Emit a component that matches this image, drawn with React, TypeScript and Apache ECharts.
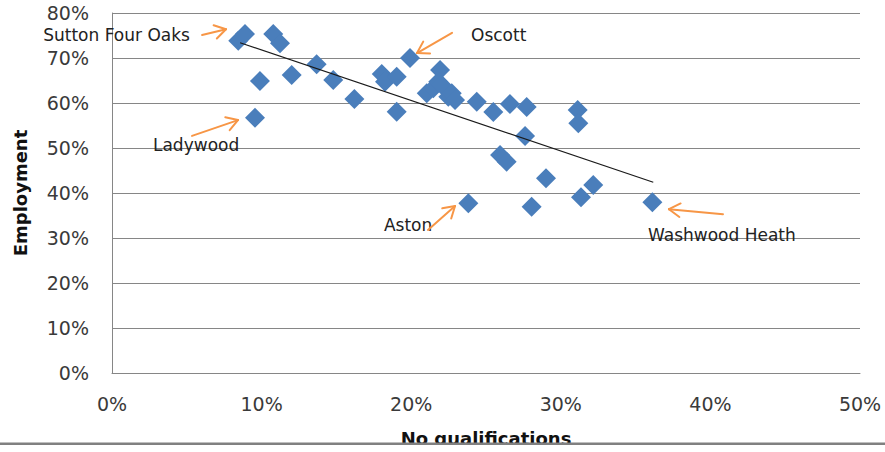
import React, { useEffect, useRef } from "react";
import * as echarts from "echarts";

// No qualifications (%) per ward
const noQualifications: number[] = [
  8.44, 8.89, 9.56, 9.89, 10.78, 11.23, 12.01, 13.68, 14.79, 16.2,
  18.03, 18.25, 19.03, 19.03, 19.92, 21.04, 21.48, 21.93, 21.81, 22.04,
  22.48, 22.71, 22.93, 24.38, 25.49, 26.6, 27.72, 27.61, 25.94, 26.38,
  29.01, 28.05, 23.82, 31.13, 31.17, 32.17, 31.35, 36.12,
];
// Employment (%) per ward
const employment: number[] = [
  73.84, 75.33, 56.73, 64.89, 75.33, 73.27, 66.22, 68.6, 65.11, 60.89,
  66.44, 64.73, 65.84, 58.07, 70.0, 62.16, 63.27, 67.33, 64.73, 64.0,
  61.4, 62.16, 60.67, 60.29, 58.0, 59.78, 59.11, 52.67, 48.44, 46.96,
  43.27, 36.96, 37.71, 58.44, 55.49, 41.78, 39.04, 37.93,
];

// Linear trend line end points [x, y]
const trendStart: number[] = [8.56, 73.4];
const trendEnd: number[] = [36.18, 42.38];

// Axis ticks
const xTicks: number[] = [0, 10, 20, 30, 40, 50];
const yTicks: number[] = [0, 10, 20, 30, 40, 50, 60, 70, 80];

// Annotations: name, label anchor (left-middle), arrow tail, arrow head (data coords)
const annotationNames: string[] = ["Sutton Four Oaks", "Ladywood", "Oscott", "Aston", "Washwood Heath"];
const annotationLabelX: number[] = [-4.6, 2.74, 24.0, 18.18, 35.83];
const annotationLabelY: number[] = [75.1, 50.7, 75.1, 32.9, 30.7];
const arrowFromX: number[] = [6.02, 5.35, 22.73, 21.12, 40.84];
const arrowFromY: number[] = [75.1, 52.7, 75.6, 31.8, 35.3];
const arrowToX: number[] = [7.62, 8.42, 20.39, 22.93, 37.23];
const arrowToY: number[] = [76.4, 56.2, 71.1, 37.1, 36.4];

const FONT = '"DejaVu Sans", "Open Sans", sans-serif';

export default function App() {
  const ref = useRef<HTMLDivElement>(null);

  useEffect(() => {
    if (!ref.current) return;
    const chart = echarts.init(ref.current, undefined, { renderer: "svg" });

    const scatterData = noQualifications.map((x, i) => [x, employment[i]]);
    const annotationData = annotationNames.map((_, i) => [
      annotationLabelX[i], annotationLabelY[i],
      arrowFromX[i], arrowFromY[i], arrowToX[i], arrowToY[i],
    ]);

    const orange = "#F79646";

    chart.setOption({
      animation: false,
      backgroundColor: "#ffffff",
      grid: { left: 112, right: 25, top: 13, bottom: 79, containLabel: false },
      xAxis: {
        type: "value",
        min: xTicks[0],
        max: xTicks[xTicks.length - 1],
        interval: 10,
        name: "No qualifications",
        nameLocation: "middle",
        nameGap: 56,
        nameTextStyle: { fontFamily: FONT, fontSize: 18, fontWeight: "bold", color: "#111" },
        axisLine: { show: true, lineStyle: { color: "#868686", width: 1 } },
        axisTick: { show: false },
        splitLine: { show: false },
        axisLabel: {
          margin: 21,
          fontFamily: FONT,
          fontSize: 19,
          color: "#3a3a3a",
          formatter: (v: number) => `${v}%`,
        },
      },
      yAxis: {
        type: "value",
        min: yTicks[0],
        max: yTicks[yTicks.length - 1],
        interval: 10,
        name: "Employment",
        nameLocation: "middle",
        nameGap: 83,
        nameRotate: 90,
        nameTextStyle: { fontFamily: FONT, fontSize: 18, fontWeight: "bold", color: "#111" },
        axisLine: { show: true, lineStyle: { color: "#868686", width: 1 } },
        axisTick: { show: false },
        splitLine: { show: true, lineStyle: { color: "#868686", width: 1 } },
        axisLabel: {
          margin: 23,
          fontFamily: FONT,
          fontSize: 19,
          color: "#3a3a3a",
          formatter: (v: number) => `${v}%`,
        },
      },
      series: [
        {
          type: "scatter",
          data: scatterData,
          symbol: "diamond",
          symbolSize: 20,
          itemStyle: { color: "#4A7EBB", opacity: 1 },
          z: 2,
        },
        {
          type: "line",
          data: [trendStart, trendEnd],
          showSymbol: false,
          symbol: "none",
          lineStyle: { color: "#1a1a1a", width: 1.2 },
          z: 3,
        },
        {
          type: "custom",
          clip: false,
          z: 4,
          data: annotationData,
          encode: { x: 0, y: 1 },
          renderItem: (params: any, api: any) => {
            const i = params.dataIndex;
            const lbl = api.coord([api.value(0), api.value(1)]);
            const from = api.coord([api.value(2), api.value(3)]);
            const to = api.coord([api.value(4), api.value(5)]);
            const ang = Math.atan2(to[1] - from[1], to[0] - from[0]);
            const armLen = 13;
            const spread = 0.55;
            const a1 = ang + Math.PI - spread;
            const a2 = ang + Math.PI + spread;
            const stroke = { stroke: orange, lineWidth: 2, lineCap: "round" };
            return {
              type: "group",
              children: [
                {
                  type: "text",
                  style: {
                    text: annotationNames[i],
                    x: lbl[0],
                    y: lbl[1],
                    align: "left",
                    verticalAlign: "middle",
                    fontFamily: FONT,
                    fontSize: 17,
                    fill: "#222",
                  },
                },
                { type: "line", shape: { x1: from[0], y1: from[1], x2: to[0], y2: to[1] }, style: stroke },
                {
                  type: "line",
                  shape: { x1: to[0], y1: to[1], x2: to[0] + armLen * Math.cos(a1), y2: to[1] + armLen * Math.sin(a1) },
                  style: stroke,
                },
                {
                  type: "line",
                  shape: { x1: to[0], y1: to[1], x2: to[0] + armLen * Math.cos(a2), y2: to[1] + armLen * Math.sin(a2) },
                  style: stroke,
                },
              ],
            };
          },
        },
      ],
      graphic: [
        { type: "rect", z: 100, shape: { x: 0, y: 443, width: 885, height: 9 }, style: { fill: "#ffffff" } },
        { type: "rect", z: 101, shape: { x: 0, y: 442.5, width: 885, height: 2.5 }, style: { fill: "#808080" } },
      ],
    });

    return () => chart.dispose();
  }, []);

  return (
    <div
      ref={ref}
      style={{ position: "absolute", left: 0, top: 0, width: 885, height: 452 }}
    />
  );
}
